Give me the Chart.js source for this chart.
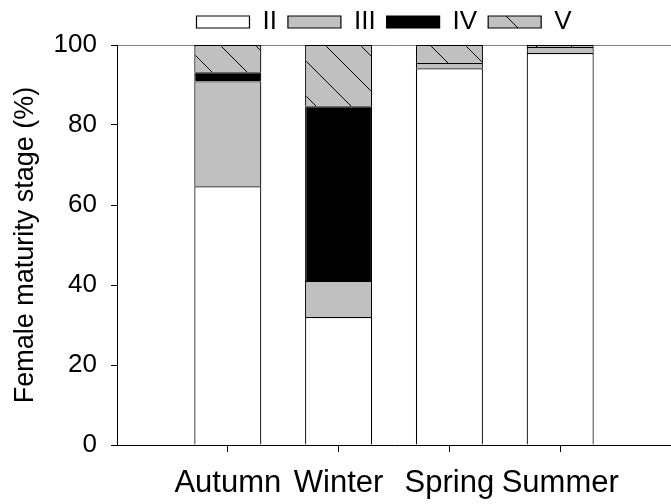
<!DOCTYPE html>
<html>
<head>
<meta charset="utf-8">
<script src="https://cdn.jsdelivr.net/npm/chart.js@4/dist/chart.umd.min.js"></script>
<style>
  body { margin: 0; background: #fff; }
</style>
</head>
<body>
<canvas id="chart" width="671" height="504"></canvas>
<script>
// Data (percent of females per maturity stage)
const seasons = ["Autumn", "Winter", "Spring", "Summer"];
const stageII = [64.7, 32, 94.2, 98];
const stageIII = [26.2, 9, 1.3, 1.5];
const stageIV = [2.3, 43.7, 0, 0];
const stageV = [6.8, 15.3, 4.5, 0.5];
const yTicks = [0, 20, 40, 60, 80, 100];

// empty slot on each side of the seasons
const labels = ["", ...seasons, ""];
const pad = arr => [null, ...arr, null];

const font = "'Liberation Sans', Arial, sans-serif";

// grey with "\" hatching for stage V
function hatch() {
    const c = document.createElement("canvas");
    c.width = 35;
    c.height = 35;
    const g = c.getContext("2d");
    g.fillStyle = "#c0c0c0";
    g.fillRect(0, 0, 35, 35);
    g.strokeStyle = "#000";
    g.lineWidth = 1;
    g.beginPath();
    g.moveTo(-1, -1);
    g.lineTo(36, 36);
    g.stroke();
    return g.createPattern(c, "repeat");
}

const bar = (label, data, fill) => ({
    label: label,
    data: pad(data),
    backgroundColor: fill,
    borderColor: "#000",
    borderWidth: 1.2,
    barPercentage: 0.605,
    categoryPercentage: 1
});

// legend sits a bit left of the plot centre
const legendShift = {
    id: "legendShift",
    afterLayout(chart) {
        chart.legend.left -= 10;
        chart.legend.right -= 10;
    }
};

new Chart(document.getElementById("chart"), {
    type: "bar",
    data: {
        labels: labels,
        datasets: [
            bar("II", stageII, "#ffffff"),
            bar("III", stageIII, "#c0c0c0"),
            bar("IV", stageIV, "#000000"),
            bar("V", stageV, hatch())
        ]
    },
    plugins: [legendShift],
    options: {
        responsive: false,
        animation: false,
        layout: { padding: { top: -5, right: 0, bottom: 0, left: 0 } },
        plugins: {
            tooltip: { enabled: false },
            legend: {
                position: "top",
                fullSize: false,
                labels: {
                    boxWidth: 53,
                    boxHeight: 12,
                    padding: 11,
                    color: "#000",
                    font: { family: font, size: 26 }
                }
            }
        },
        scales: {
            x: {
                stacked: true,
                offset: false,
                grid: {
                    offset: false,
                    drawOnChartArea: false,
                    tickLength: 7,
                    tickColor: ctx => (ctx.index === 0 || ctx.index === labels.length - 1) ? "rgba(0,0,0,0)" : "#000"
                },
                border: { color: "#000", width: 1 },
                ticks: {
                    autoSkip: false,
                    maxRotation: 0,
                    padding: 13,
                    color: "#000",
                    font: { family: font, size: 31 }
                },
                afterFit: s => { s.height = 59; s.paddingLeft = 0; s.paddingRight = 0; }
            },
            y: {
                stacked: true,
                min: 0,
                max: 100,
                afterBuildTicks: s => { s.ticks = yTicks.map(v => ({ value: v })); },
                grid: {
                    tickLength: 6,
                    color: ctx => ctx.tick && ctx.tick.value === 100 ? "#808080" : "rgba(0,0,0,0)",
                    tickColor: "#000"
                },
                border: { color: "#000", width: 1 },
                ticks: {
                    padding: 14,
                    color: "#000",
                    font: { family: font, size: 26 }
                },
                title: {
                    display: true,
                    text: "Female maturity stage (%)",
                    color: "#000",
                    padding: { top: 9, bottom: 0 },
                    font: { family: font, size: 27 }
                },
                afterFit: s => { s.width = 117; s.paddingTop = 45; }
            }
        }
    }
});
</script>
</body>
</html>
